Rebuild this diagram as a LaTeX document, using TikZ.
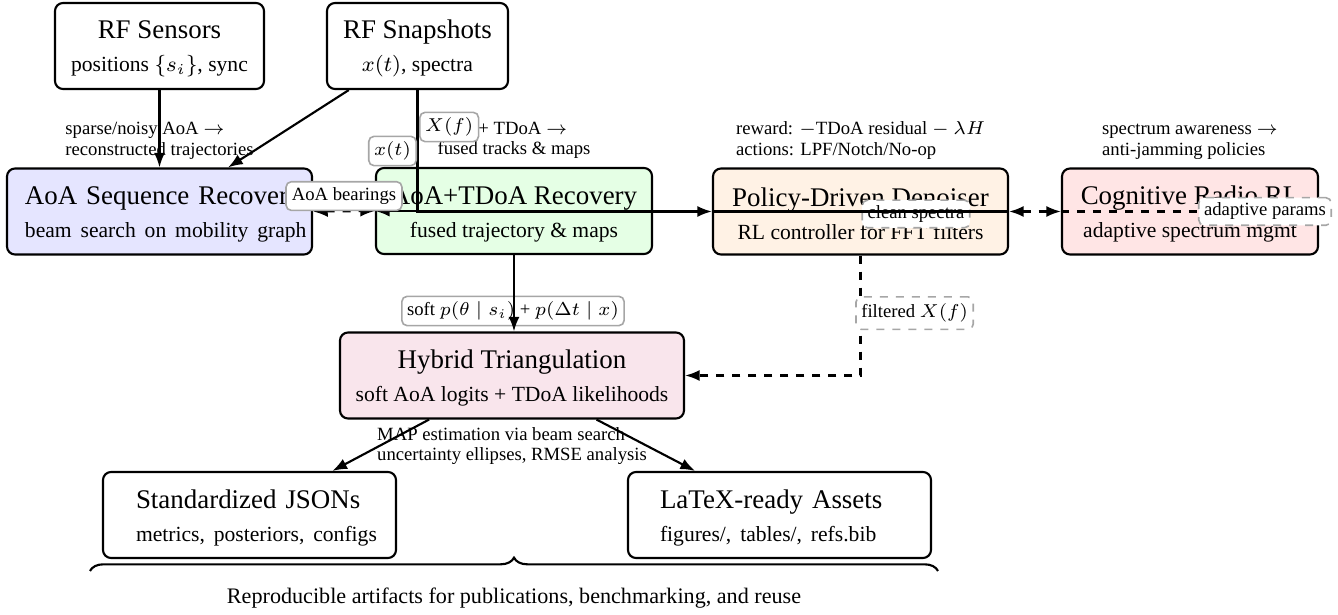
\documentclass[tikz,border=0pt]{standalone}
\usepackage{fix-cm}
\usepackage{fontspec}
\setmainfont{Liberation Serif}
\usetikzlibrary{arrows.meta,decorations.pathreplacing,calc}

\newcommand\pxu{0.375pt}
\newcommand\ttl[1]{\mbox{\fontsize{10.1}{11.5}\selectfont\rule{0pt}{9pt}#1}}
\newcommand\subln[1]{\mbox{\fontsize{8.1}{9.5}\selectfont #1}}
\newcommand\lblsize{\fontsize{7}{7.6}\selectfont}

\tikzset{
  blk/.style={draw, thick, rounded corners=3pt, align=center,
    minimum height=86*\pxu, inner sep=2pt},
  arr/.style={thick, -{Latex[length=5.5pt,width=4.2pt]}},
  darr/.style={thick, {Latex[length=5.5pt,width=4.2pt]}-{Latex[length=5.5pt,width=4.2pt]}},
  tag/.style={draw=black!35, solid, line width=0.6pt, fill=white, rounded corners=2pt,
    inner sep=2pt, font=\lblsize},
  dtag/.style={tag, dashed},
  note/.style={font=\lblsize, align=left, inner sep=1pt},
}

\begin{document}
\begin{tikzpicture}[x=0.375pt, y=-0.375pt]
\useasboundingbox (0,0) rectangle (1338,615);

% --- inputs
\node[blk, minimum width=209*\pxu] (sens) at (159.5,46)
  {\ttl{RF Sensors}\\[0.3pt]\subln{positions $\{s_i\}$, sync}};
\node[blk, minimum width=181*\pxu] (snap) at (417.5,46)
  {\ttl{RF Snapshots}\\[0.3pt]\subln{$x(t)$, spectra}};

% --- recovery and denoising stage
\node[blk, fill=blue!10, minimum width=305*\pxu, text width=269*\pxu] (aoa) at (159.5,211.5)
  {\ttl{AoA Sequence Recovery}\\[0.3pt]\subln{beam search on mobility graph}};
\node[blk, fill=green!10, minimum width=276*\pxu] (tdoa) at (514,211)
  {\ttl{AoA+TDoA Recovery}\\[0.3pt]\subln{fused trajectory \& maps}};
\node[blk, fill=orange!10, minimum width=295*\pxu] (pol) at (860.5,211.5)
  {\ttl{Policy-Driven Denoiser}\\[0.3pt]\subln{RL controller for FFT filters}};
\node[blk, fill=red!10, minimum width=256*\pxu] (cog) at (1190,211.5)
  {\ttl{Cognitive Radio RL}\\[0.3pt]\subln{adaptive spectrum mgmt}};

% --- fusion
\node[blk, fill=purple!10, minimum width=344*\pxu] (hyb) at (512,375.5)
  {\ttl{Hybrid Triangulation}\\[0.3pt]\subln{soft AoA logits + TDoA likelihoods}};

% --- outputs
\node[blk, align=left, minimum width=293*\pxu, text width=227*\pxu] (json) at (249.5,515)
  {\ttl{Standardized JSONs}\\[0.3pt]\subln{metrics, posteriors, configs}};
\node[blk, align=left, minimum width=303*\pxu, text width=239*\pxu] (ltx) at (779.5,515)
  {\ttl{LaTeX-ready Assets}\\[0.3pt]\subln{figures/, tables/, refs.bib}};

% --- notes above the stage blocks
\node[note, anchor=south] (naoa) at ($(aoa.north)+(0,-5)$)
  {sparse/noisy AoA $\rightarrow$\\reconstructed trajectories};
\node[note, anchor=south] (ntdoa) at ($(tdoa.north)+(0,-5)$)
  {AoA + TDoA $\rightarrow$\\fused tracks \& maps};
\node[note, anchor=south] (npol) at ($(pol.north)+(0,-5)$)
  {reward: $-$TDoA residual $-\ \lambda H$\\actions: LPF/Notch/No-op};
\node[note, anchor=south] (ncog) at ($(cog.north)+(0,-5)$)
  {spectrum awareness $\rightarrow$\\anti-jamming policies};

% --- input connectors
\draw[arr] (sens) -- (aoa);
\draw[arr] (snap) -- (aoa);
\draw[arr] (snap) |- (tdoa.west);
\node[dtag] (lclean) at (916,214) {clean spectra};
\draw[arr] (snap) |- (pol.west);
\draw[thick] (pol.west) -- (pol.east);
\node[tag, anchor=east] (lxt) at (417,151) {$x(t)$};
\node[tag, anchor=west] (lxf) at (419,127) {$X(f)$};

% --- links along the stage row
\coordinate (cogin) at (1265,211.5);
\draw[thick, dashed] (cog.west) -- (cogin);
\draw[darr, dashed] (pol.east) -- (cog.west);
\draw[darr, dashed] (aoa.east) -- node[tag, above, inner sep=2.2pt] (lbear) {AoA bearings} (tdoa.west);
\node[dtag] (ladapt) at (cogin) {adaptive params};

% --- into the fusion block
\node[tag] (lsoft) at (513,311) {soft $p(\theta\mid s_i)$ + $p(\Delta t\mid x)$};
\draw[arr] (tdoa.south) -- (hyb.north -| tdoa.south);
\draw[arr, dashed] (pol.south) |- node[dtag, pos=0.24, right, xshift=-2pt, inner ysep=2.6pt] (lfilt) {filtered $X(f)$} (hyb.east);

% --- outputs
\node[note, anchor=north] (nmap) at ($(hyb.south)+(0,5)$)
  {MAP estimation via beam search\\uncertainty ellipses, RMSE analysis};
\draw[arr] (hyb) -- (json);
\draw[arr] (hyb) -- (ltx);

\draw[thick, decorate, decoration={brace, amplitude=5pt}]
  (90,571) coordinate (bl) -- (938,571) coordinate (br);
\node[font=\fontsize{8.3}{9.5}\selectfont] (repro) at (514,598)
  {Reproducible artifacts for publications, benchmarking, and reuse};
\end{tikzpicture}
\end{document}
